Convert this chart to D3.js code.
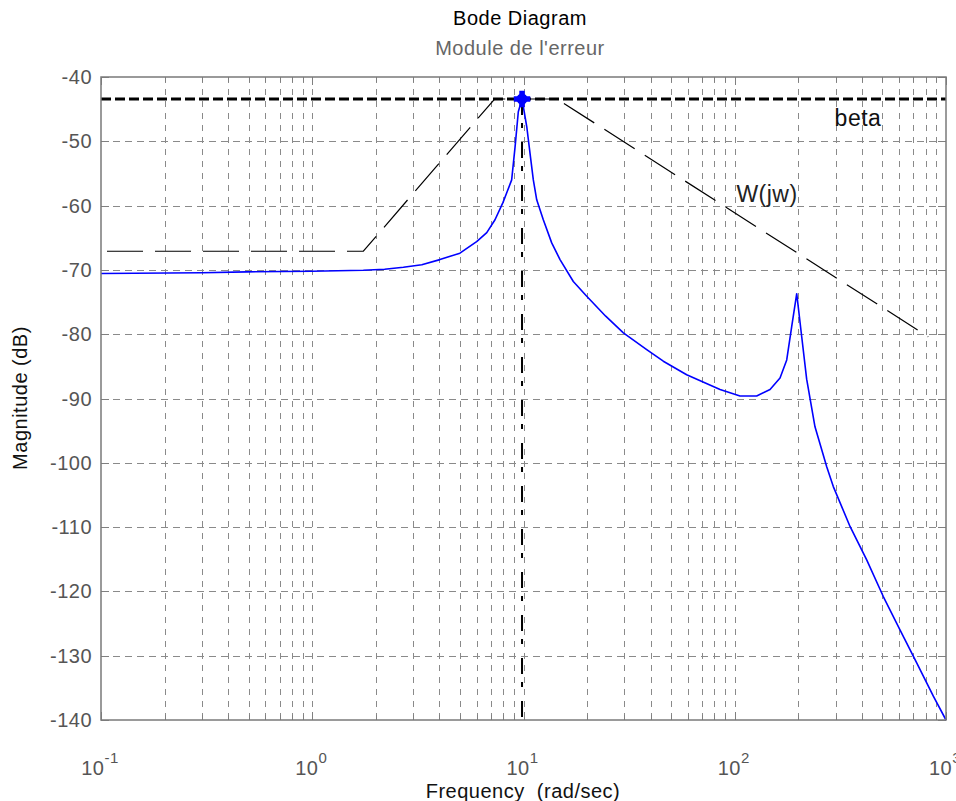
<!DOCTYPE html>
<html>
<head>
<meta charset="utf-8">
<script src="https://cdn.jsdelivr.net/npm/d3@7"></script>
<style>
  html, body { margin: 0; padding: 0; background: #fff; }
  svg { display: block; }
  text { font-family: "Liberation Sans", Arial, sans-serif; letter-spacing: 0.5px; }
</style>
</head>
<body>
<svg id="chart" width="956" height="801"></svg>
<script>
// Error magnitude |E(jw)| in dB
const errFreq = [0.1, 0.3, 0.49, 1.0, 1.745, 2.2, 2.7, 3.3, 4.02, 5.0, 6.0, 6.7, 7.33, 8.0, 8.33, 8.79,
  9.12, 9.45, 9.84, 10.36, 10.73, 11.13, 11.55, 12.41, 13.6, 14.89, 17.21, 19.92, 24.5, 29.7, 38.3,
  45.9, 59.2, 85.2, 105.9, 127.0, 146.9, 163.8, 176.2, 186.1, 196.5, 207.5, 219.0, 239.8, 272.5,
  292.8, 351.3, 421.3, 504.9, 605.6, 726.6, 871, 1000];
const errMag = [-70.55, -70.45, -70.3, -70.2, -70.05, -69.9, -69.6, -69.2, -68.4, -67.4, -65.6, -64.2,
  -62.2, -59.5, -58.0, -56.0, -50.9, -45.4, -43.42, -47.7, -51.8, -56.0, -59.1, -62.2, -65.8, -68.4,
  -71.8, -74.1, -77.2, -79.8, -82.4, -84.2, -86.3, -88.6, -89.6, -89.6, -88.6, -86.8, -84.0, -78.8,
  -73.7, -80.4, -87.0, -94.4, -100.6, -103.7, -109.9, -115.1, -120.8, -126.0, -131.1, -136.3, -140];

// Weighting template W(jw), piecewise linear in dB
const wFreq = [0.1, 1.745, 7.3, 14.4, 824];
const wMag = [-67.1, -67.1, -43.42, -43.42, -80.4];

// Bound beta and the peak of |E|
const betaDb = -43.42;
const peakFreq = 9.84;

// Axes
const xDomain = [0.1, 1000];
const yDomain = [-140, -40];
const yTicks = [-40, -50, -60, -70, -80, -90, -100, -110, -120, -130, -140];
const xDecades = [-1, 0, 1, 2, 3];

const titleText = "Bode Diagram";
const subtitleText = "Module de l'erreur";
const xLabelText = "Frequency  (rad/sec)";
const yLabelText = "Magnitude (dB)";
const betaLabel = "beta";
const wLabel = "W(jw)";

const svg = d3.select("#chart");
const L = 101, R = 946, T = 77, B = 720;

const x = d3.scaleLog().domain(xDomain).range([L, R]);
const y = d3.scaleLinear().domain(yDomain).range([B, T]);

// minor + major log positions
const logTicks = [];
for (let e = -1; e < 3; e++) {
  for (let m = 1; m <= 9; m++) logTicks.push(m * Math.pow(10, e));
}
logTicks.push(1000);

const grid = svg.append("g").attr("stroke", "#8a8a8a").attr("stroke-width", 1).attr("fill", "none");
grid.selectAll("line.v").data(logTicks.filter(f => f > xDomain[0] && f < xDomain[1]))
  .join("line").attr("class", "v")
  .attr("x1", d => Math.round(x(d)) + 0.5).attr("x2", d => Math.round(x(d)) + 0.5)
  .attr("y1", T).attr("y2", B)
  .attr("stroke-dasharray", "6,6");
grid.selectAll("line.h").data(yTicks.filter(v => v > yDomain[0] && v < yDomain[1]))
  .join("line").attr("class", "h")
  .attr("x1", L).attr("x2", R)
  .attr("y1", d => Math.round(y(d)) + 0.5).attr("y2", d => Math.round(y(d)) + 0.5)
  .attr("stroke-dasharray", "7,5");

// Ticks on all four sides (inward)
const tk = svg.append("g").attr("stroke", "#808080").attr("stroke-width", 1);
logTicks.forEach(f => {
  const isMajor = Math.abs(Math.log10(f) - Math.round(Math.log10(f))) < 1e-9;
  const len = isMajor ? 8 : 5;
  const xp = Math.round(x(f)) + 0.5;
  tk.append("line").attr("x1", xp).attr("x2", xp).attr("y1", B).attr("y2", B - len);
  tk.append("line").attr("x1", xp).attr("x2", xp).attr("y1", T).attr("y2", T + len);
});
yTicks.forEach(v => {
  const yp = Math.round(y(v)) + 0.5;
  tk.append("line").attr("x1", L).attr("x2", L + 8).attr("y1", yp).attr("y2", yp);
  tk.append("line").attr("x1", R).attr("x2", R - 8).attr("y1", yp).attr("y2", yp);
});

const line = d3.line().x(d => x(d[0])).y(d => y(d[1]));

// W(jw) template
svg.append("path")
  .datum(wFreq.map((f, i) => [f, wMag[i]]))
  .attr("d", line)
  .attr("fill", "none").attr("stroke", "#000").attr("stroke-width", 1.2)
  .attr("stroke-dasharray", "36,12").attr("stroke-dashoffset", -6);

// |E(jw)|
svg.append("path")
  .datum(errFreq.map((f, i) => [f, errMag[i]]))
  .attr("d", line)
  .attr("fill", "none").attr("stroke", "#0000ff").attr("stroke-width", 1.6)
  .attr("stroke-linejoin", "round");

// beta bound
svg.append("line")
  .attr("x1", L).attr("x2", R)
  .attr("y1", y(betaDb)).attr("y2", y(betaDb))
  .attr("stroke", "#000").attr("stroke-width", 3)
  .attr("stroke-dasharray", "10,4");

// vertical marker line at the peak frequency
svg.append("line")
  .attr("x1", x(peakFreq)).attr("x2", x(peakFreq))
  .attr("y1", y(betaDb)).attr("y2", B)
  .attr("stroke", "#000").attr("stroke-width", 2)
  .attr("stroke-dasharray", "16,8,5,14");

// peak marker
const px = x(peakFreq), py = y(betaDb);
svg.append("circle").attr("cx", px).attr("cy", py).attr("r", 5.5).attr("fill", "#0000ff");
svg.append("path")
  .attr("d", d3.symbol().type(d3.symbolCross).size(150)())
  .attr("transform", `translate(${px},${py})`)
  .attr("fill", "#0000ff");

// curve labels
svg.append("text").attr("x", 858).attr("y", 126).attr("text-anchor", "middle")
  .attr("font-size", 23).attr("fill", "#111").text(betaLabel);
svg.append("text").attr("x", 767).attr("y", 202).attr("text-anchor", "middle")
  .attr("font-size", 23).attr("fill", "#222").text(wLabel);

// frame
svg.append("rect").attr("x", L).attr("y", T).attr("width", R - L).attr("height", B - T)
  .attr("fill", "none").attr("stroke", "#7a7a7a").attr("stroke-width", 1.5);

// y tick labels
svg.append("g").selectAll("text").data(yTicks).join("text")
  .attr("x", 92).attr("y", d => y(d) + 7)
  .attr("text-anchor", "end").attr("font-size", 20).attr("fill", "#555")
  .text(d => d);

// x tick labels 10^n
const xl = svg.append("g");
xDecades.forEach(e => {
  const t = xl.append("text")
    .attr("x", x(Math.pow(10, e)) - 1).attr("y", 775)
    .attr("text-anchor", "middle").attr("font-size", 20).attr("fill", "#555");
  t.append("tspan").text("10");
  t.append("tspan").attr("dy", -12).attr("font-size", 15).text(e);
});

// titles
svg.append("text").attr("x", 520).attr("y", 25).attr("text-anchor", "middle")
  .attr("font-size", 20).attr("fill", "#000").text(titleText);
svg.append("text").attr("x", 520).attr("y", 55).attr("text-anchor", "middle")
  .attr("font-size", 20).attr("fill", "#666").text(subtitleText);

// axis labels
svg.append("text").attr("x", 523).attr("y", 798).attr("text-anchor", "middle")
  .attr("font-size", 20).attr("fill", "#111").style("white-space", "pre").text(xLabelText);
svg.append("text").attr("transform", "translate(27,398) rotate(-90)").attr("text-anchor", "middle")
  .attr("font-size", 20).attr("fill", "#111").text(yLabelText);
</script>
</body>
</html>
